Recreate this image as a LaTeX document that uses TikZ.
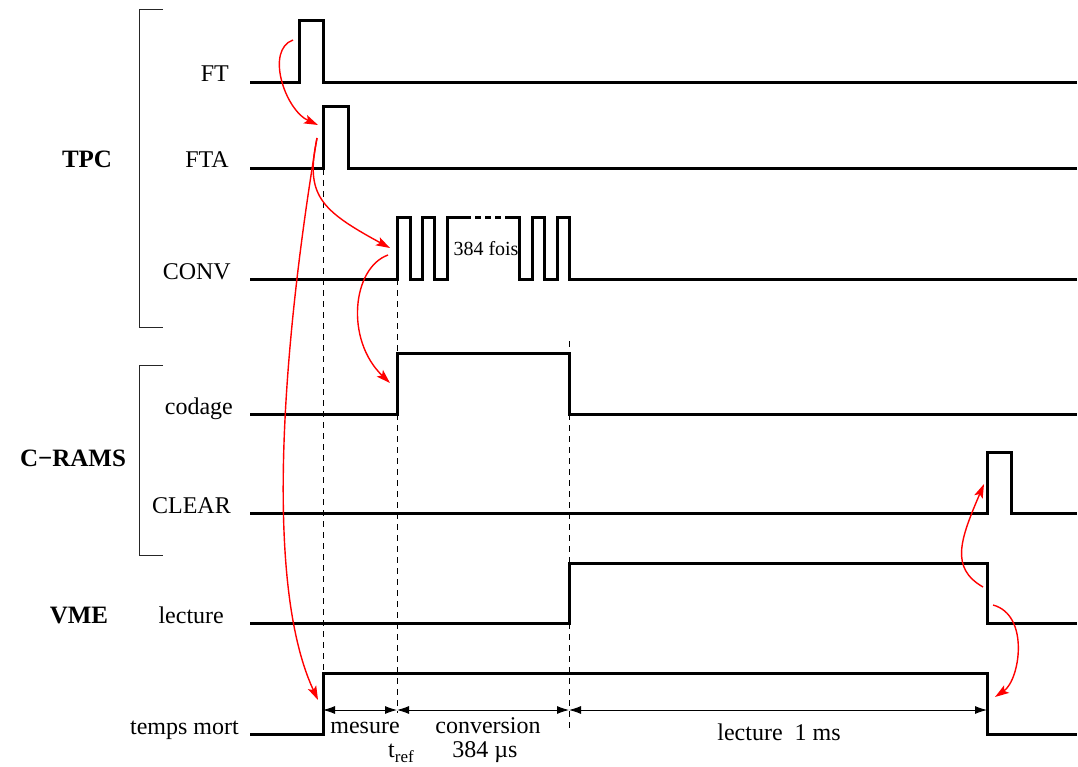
\documentclass[tikz,border=0pt]{standalone}
\usepackage{fontspec}
\setmainfont{Liberation Serif}
\usetikzlibrary{arrows.meta}
\begin{document}
\begin{tikzpicture}[x=1pt,y=-1pt,
  sig/.style={line width=3pt, line join=miter, line cap=butt},
  guide/.style={line width=1pt, dash pattern=on 6pt off 5pt, black},
  bracketline/.style={line width=1pt, black!85},
  dimline/.style={line width=0.9pt, {Latex[length=12pt,width=8pt]}-{Latex[length=12pt,width=8pt]}},
  redarr/.style={red, line width=1.4pt, -{Stealth[length=14pt,width=9pt,inset=3pt]}},
  lbl/.style={font=\fontsize{24pt}{28pt}\selectfont, inner sep=0pt, anchor=base east},
  grp/.style={font=\fontsize{25pt}{29pt}\selectfont\bfseries, inner sep=0pt, anchor=base},
  txt/.style={font=\fontsize{24pt}{28pt}\selectfont, inner sep=0pt, anchor=base},
  small/.style={font=\fontsize{20pt}{24pt}\selectfont, inner sep=0pt, anchor=base}]
\useasboundingbox (0,0) rectangle (1078,767);

% group labels
\node[grp] (tpc) at (87,168) {TPC};
\node[grp] (crams) at (73,466) {C\textminus RAMS};
\node[grp] (vme) at (79,623) {VME};

% brackets
\draw[bracketline] (163,10) -- (139,10) -- (139,327) -- (163,327);
\draw[bracketline] (163,365) -- (139,365) -- (139,555) -- (163,555);

% signal labels
\node[lbl] (lFT) at (229,82) {FT};
\node[lbl] (lFTA) at (229,168) {FTA};
\node[lbl] (lCONV) at (231,279) {CONV};
\node[lbl] (lcod) at (233,414) {codage};
\node[lbl] (lCLR) at (231,513) {CLEAR};
\node[lbl] (llec) at (224,623) {lecture};
\node[lbl] (ltm) at (239,734) {temps mort};

% dashed guides
\draw[guide] (323,169) -- (323,673);
\draw[guide] (397,279) -- (397,353);
\draw[guide] (397,414) -- (397,713);
\draw[guide] (569,341) -- (569,353);
\draw[guide] (569,414) -- (569,563);
\draw[guide] (569,623) -- (569,732);

% waveforms
\draw[sig] (250,83) -- (299,83) -- (299,21) -- (323,21) -- (323,83) -- (1077,83);
\draw[sig] (250,169) -- (323,169) -- (323,107) -- (348,107) -- (348,169) -- (1077,169);
\draw[sig] (250,279) -- (397,279) -- (397,218) -- (410,218) -- (410,279) -- (422,279)
  -- (422,218) -- (434,218) -- (434,279) -- (447,279) -- (447,218) -- (465,218);
\draw[sig, dash pattern=on 6pt off 4pt] (465,218) -- (507,218);
\draw[sig] (507,218) -- (519,218) -- (519,279) -- (532,279) -- (532,218) -- (544,218)
  -- (544,279) -- (557,279) -- (557,218) -- (569,218) -- (569,279) -- (1077,279);
\node[small] (fois) at (486,255) {384 fois};
\draw[sig] (250,414) -- (397,414) -- (397,353) -- (569,353) -- (569,414) -- (1077,414);
\draw[sig] (250,513) -- (987,513) -- (987,452) -- (1011,452) -- (1011,513) -- (1077,513);
\draw[sig] (250,623) -- (569,623) -- (569,563) -- (987,563) -- (987,623) -- (1077,623);
\draw[sig] (250,734) -- (323,734) -- (323,673) -- (987,673) -- (987,734) -- (1077,734);

% dimension lines
\coordinate (d0) at (323,710);
\coordinate (d1) at (397,710);
\coordinate (d2) at (569,710);
\coordinate (d3) at (987,710);
\draw[dimline] (d0) -- (d1);
\draw[dimline] (d1) -- (d2);
\draw[dimline] (d2) -- (d3);
\node[txt] (mes) at (365,733) {mesure};
\node[txt] (tref) at (401,757) {t\raisebox{-5pt}{\fontsize{17pt}{17pt}\selectfont ref}};
\node[txt] (conv) at (488,733) {conversion};
\node[txt] (cus) at (485,757) {384 µs};
\node[txt] (lms) at (779,740) {lecture\ \ 1 ms};

% causal red arrows
\coordinate (ftS) at (293,40);
\coordinate (ftaE) at (318,125);
\coordinate (ftaS) at (317,138);
\coordinate (convE) at (390,248);
\coordinate (tmE) at (318,700);
\coordinate (convS) at (388,255);
\coordinate (codE) at (390,383);
\coordinate (lecS1) at (983,587);
\coordinate (clrE) at (984,484);
\coordinate (lecS2) at (993,605);
\coordinate (tmE2) at (995,697);
\draw[redarr] (ftS) .. controls (265,50) and (285,110) .. (ftaE);
\draw[redarr] (ftaS) .. controls (305,195) and (320,210) .. (convE);
\draw[redarr] (ftaS) .. controls (285,330) and (262,580) .. (tmE);
\draw[redarr] (convS) .. controls (352,268) and (345,340) .. (codE);
\draw[redarr] (lecS1) .. controls (950,568) and (960,540) .. (clrE);
\draw[redarr] (lecS2) .. controls (1030,615) and (1020,680) .. (tmE2);
\end{tikzpicture}
\end{document}
